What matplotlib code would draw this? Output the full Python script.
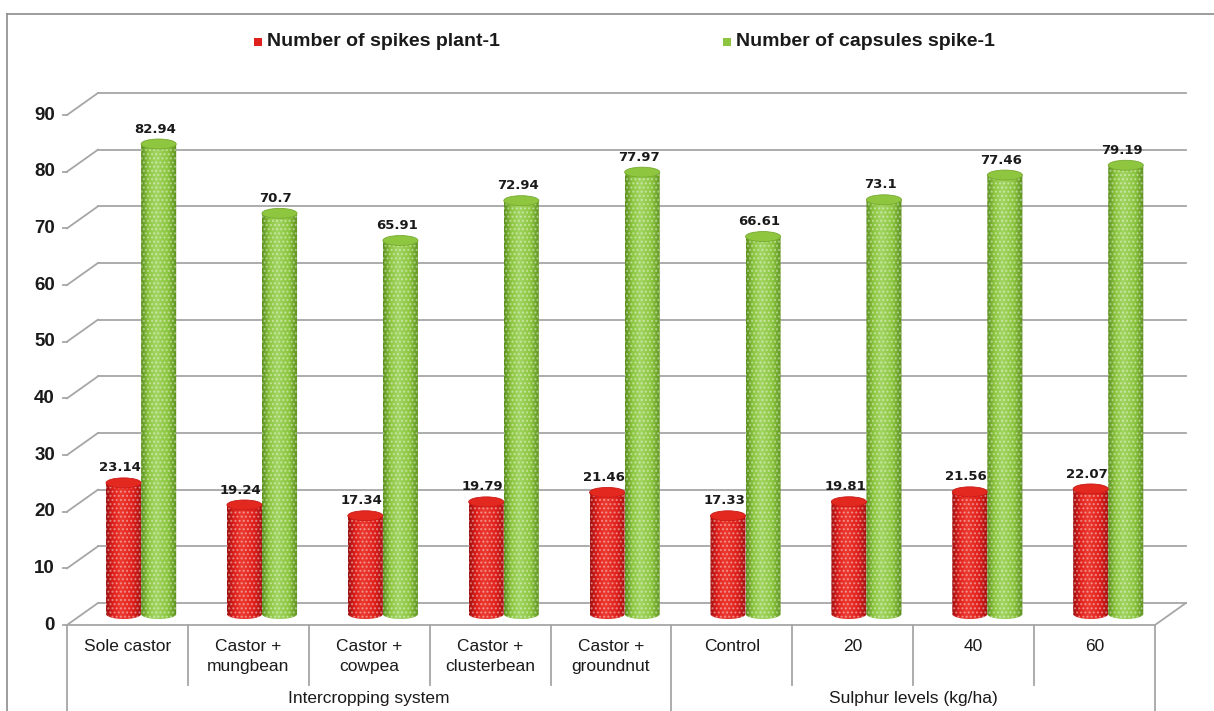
import numpy as np
import matplotlib
matplotlib.use("Agg")
import matplotlib.pyplot as plt
from matplotlib.path import Path
from matplotlib.patches import PathPatch, Ellipse, Rectangle
from matplotlib.colors import LinearSegmentedColormap

# data
categories = ["Sole castor", "Castor +\nmungbean", "Castor +\ncowpea", "Castor +\nclusterbean",
              "Castor +\ngroundnut", "Control", "20", "40", "60"]
groups = ["Intercropping system", "Sulphur levels (kg/ha)"]
group_sizes = [5, 4]
spikes = [23.14, 19.24, 17.34, 19.79, 21.46, 17.33, 19.81, 21.56, 22.07]
capsules = [82.94, 70.7, 65.91, 72.94, 77.97, 66.61, 73.1, 77.46, 79.19]
series_names = ["Number of spikes plant-1", "Number of capsules spike-1"]
yticks = list(range(0, 91, 10))

# 3d look: depth offset of the back wall, in data units
DX, DY = 0.256, 3.88
BAR_W = 0.29
ELL_H = 1.76
GRID = "#a6a6a6"

fig = plt.figure(figsize=(12.14, 7.11), dpi=100)
ax = fig.add_axes([67 / 1214, 86 / 711, 1088 / 1214, 510 / 711])
ax.set_xlim(-0.5, 8.5)
ax.set_ylim(0, 90)
ax.axis("off")

n = len(categories)
x0, x1 = -0.5, n - 0.5

# back wall gridlines + left side wall
for v in yticks:
    ax.plot([x0 + DX, x1 + DX], [v + DY, v + DY], color=GRID, lw=1.3, clip_on=False)
    ax.plot([x0, x0 + DX], [v, v + DY], color=GRID, lw=1.3, clip_on=False)
    ax.plot([x0 - 0.035, x0], [v, v], color=GRID, lw=1.3, clip_on=False)
    ax.text(x0 - 0.1, v, str(v), ha="right", va="center", fontsize=13.5,
            fontweight="bold", family="Liberation Sans", color="#1a1a1a")
# floor front edge + right edge
ax.plot([x0, x1], [0, 0], color=GRID, lw=1.3, clip_on=False)
ax.plot([x1, x1 + DX], [0, DY], color=GRID, lw=1.3, clip_on=False)


def cylinder(xc, v, w, dark, base, light, top_face, top_edge):
    yb = DY / 2
    t = np.linspace(np.pi, 2 * np.pi, 40)
    arc = np.column_stack([xc + w / 2 * np.cos(t), yb + ELL_H / 2 * np.sin(t)])
    pts = np.vstack([[xc - w / 2, yb + v], arc, [xc + w / 2, yb + v], [xc - w / 2, yb + v]])
    path = Path(pts, closed=True)
    clip = PathPatch(path, facecolor="none", edgecolor="none", transform=ax.transData)
    ax.add_patch(clip)
    cmap = LinearSegmentedColormap.from_list(
        "c", [(0, dark), (0.2, base), (0.42, light), (0.75, base), (1, dark)])
    grad = np.linspace(0, 1, 64).reshape(1, -1)
    im = ax.imshow(grad, cmap=cmap, aspect="auto", interpolation="bilinear",
                   extent=[xc - w / 2, xc + w / 2, yb - ELL_H, yb + v], zorder=2)
    im.set_clip_path(clip)
    ax.add_patch(PathPatch(path, facecolor="none", edgecolor=(1, 1, 1, 0.4),
                           hatch="....", lw=0, zorder=3))
    ax.add_patch(Ellipse((xc, yb + v), w, ELL_H, facecolor=top_face,
                         edgecolor=top_edge, lw=0.6, zorder=4))


for i in range(n):
    xr = i - 0.16 + DX / 2
    xg = i + 0.13 + DX / 2
    cylinder(xr, spikes[i], BAR_W, "#a01010", "#e0201c", "#ec3b30", "#e2281f", "#c81a16")
    cylinder(xg, capsules[i], BAR_W, "#5c8f1e", "#8cc63f", "#a2d563", "#8ec63f", "#77aa30")
    ax.text(xr - 0.03, spikes[i] + DY / 2 + ELL_H / 2 + 0.6, f"{spikes[i]:g}", ha="center",
            va="bottom", fontsize=9.5, fontweight="bold", color="#1a1a1a")
    ax.text(xg - 0.03, capsules[i] + DY / 2 + ELL_H / 2 + 0.6, f"{capsules[i]:g}", ha="center",
            va="bottom", fontsize=9.5, fontweight="bold", color="#1a1a1a")

ax.set_xlim(-0.5, 8.5)
ax.set_ylim(0, 90)

# category table under the floor
px = 90 / 510  # data units per pixel in y
for i, lab in enumerate(categories):
    ax.text(i, -14 * px, lab, ha="center", va="top", fontsize=12.5, family="Liberation Sans",
            linespacing=1.45, color="#1a1a1a", clip_on=False)
bounds = np.cumsum([0] + group_sizes) - 0.5
for b in range(1, n):
    if b - 0.5 not in bounds:
        ax.plot([b - 0.5, b - 0.5], [0, -60 * px], color=GRID, lw=1.3, clip_on=False)
for b in bounds:
    ax.plot([b, b], [0, -90 * px], color=GRID, lw=1.3, clip_on=False)
for g, lab in enumerate(groups):
    mid = (bounds[g] + bounds[g + 1]) / 2
    ax.text(mid, -73 * px, lab, ha="center", va="center", fontsize=12.5,
            family="Liberation Sans", color="#1a1a1a", clip_on=False)

# legend at the top
for xm, col, name in [(258, "#e0201c", series_names[0]), (727, "#8cc63f", series_names[1])]:
    fig.add_artist(Rectangle(((xm - 4) / 1214, (711 - 46) / 711), 8 / 1214, 8 / 711,
                             facecolor=col, edgecolor="none", transform=fig.transFigure))
    fig.text((xm + 9) / 1214, (711 - 42) / 711, name, ha="left", va="center",
             fontsize=14, fontweight="bold", family="Liberation Sans", color="#1a1a1a")

# outer chart border (top + left)
fig.add_artist(plt.Line2D([7 / 1214, 1], [1 - 14 / 711, 1 - 14 / 711], color="#8c8c8c", lw=1.2,
                          transform=fig.transFigure))
fig.add_artist(plt.Line2D([7 / 1214, 7 / 1214], [0, 1 - 14 / 711], color="#8c8c8c", lw=1.2,
                          transform=fig.transFigure))

fig.savefig("out.png", dpi=100)
